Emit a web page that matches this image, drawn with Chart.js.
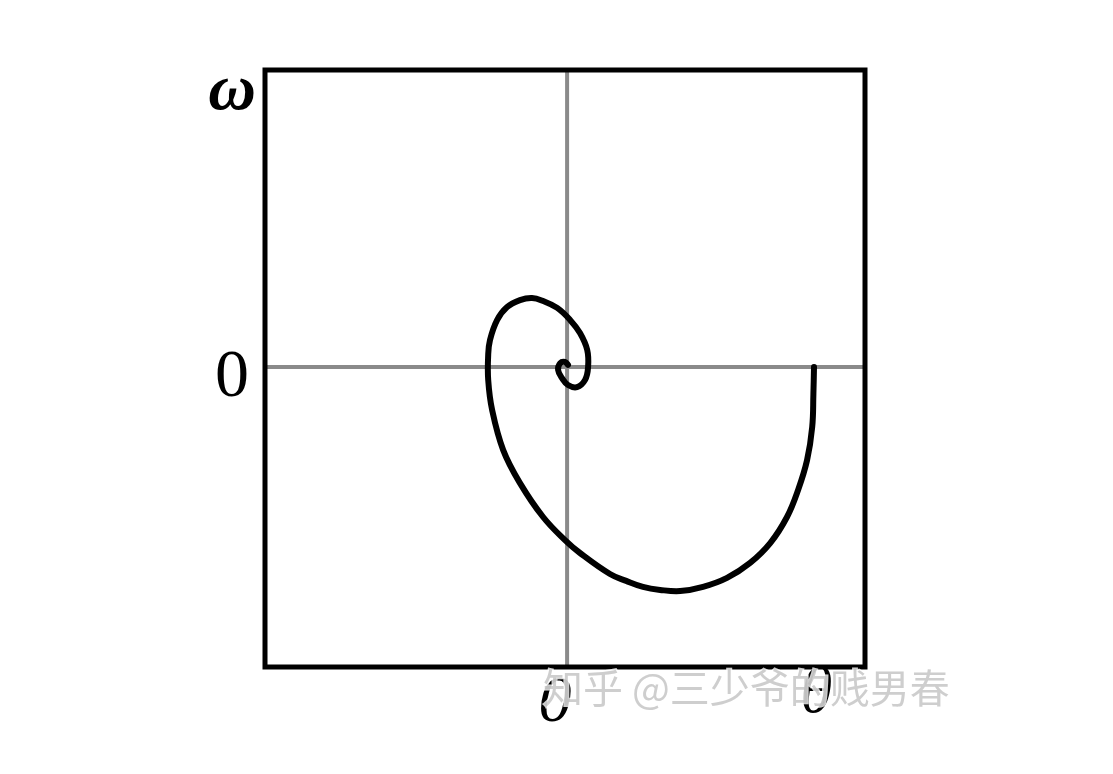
<!DOCTYPE html>
<html>
<head>
<meta charset="utf-8">
<script src="https://cdn.jsdelivr.net/npm/chart.js@4/dist/chart.umd.min.js"></script>
<style>
  html, body { margin: 0; padding: 0; background: #fff; }
  #wrap { width: 1113px; height: 774px; }
</style>
</head>
<body>
<div id="wrap"><canvas id="phase"></canvas></div>
<script>
// Phase trajectory (theta, omega)
const thetaValues = [0.823, 0.821, 0.817, 0.800, 0.770, 0.733, 0.677, 0.610, 0.533, 0.453,
  0.377, 0.310, 0.253, 0.197, 0.143, 0.043, -0.007, -0.080, -0.157, -0.213, -0.250,
  -0.263, -0.263, -0.257, -0.233, -0.200, -0.157, -0.117, -0.080, -0.033, 0.010,
  0.043, 0.067, 0.070, 0.060, 0.033, 0.003, -0.017, -0.030, -0.023, -0.007, 0.003];
const omegaValues = [0.000, -0.090, -0.200, -0.310, -0.410, -0.500, -0.587, -0.653, -0.703, -0.733,
  -0.747, -0.743, -0.733, -0.713, -0.690, -0.620, -0.577, -0.500, -0.387, -0.277, -0.143,
  -0.043, 0.040, 0.090, 0.157, 0.200, 0.223, 0.230, 0.220, 0.197, 0.157,
  0.113, 0.057, 0.000, -0.043, -0.067, -0.060, -0.037, -0.010, 0.013, 0.017, 0.007];

// Axis labels
const xTickValues = [0, 0.87];
const xTickLabels = ['0', 'θ'];
const yTickValues = [0, 0.89];
const yTickLabels = ['0', 'ω'];

const points = thetaValues.map((t, i) => ({ x: t, y: omegaValues[i] }));

// Draws the frame, the zero axes and the labels
const framePlugin = {
  id: 'frame',
  beforeDatasetsDraw(chart) {
    const { ctx, chartArea: a, scales } = chart;
    const x0 = scales.x.getPixelForValue(0);
    const y0 = scales.y.getPixelForValue(0);
    ctx.save();
    ctx.strokeStyle = '#8a8a8a';
    ctx.lineWidth = 4;
    ctx.beginPath();
    ctx.moveTo(x0, a.top); ctx.lineTo(x0, a.bottom);
    ctx.moveTo(a.left, y0); ctx.lineTo(a.right, y0);
    ctx.stroke();
    ctx.restore();
  },
  afterDatasetsDraw(chart) {
    const { ctx, chartArea: a, scales } = chart;
    ctx.save();
    ctx.strokeStyle = '#000';
    ctx.lineWidth = 5;
    ctx.strokeRect(a.left, a.top, a.right - a.left, a.bottom - a.top);

    ctx.fillStyle = '#000';
    ctx.textAlign = 'center';
    ctx.textBaseline = 'alphabetic';
    yTickValues.forEach((v, i) => {
      const italic = yTickLabels[i] !== '0';
      ctx.font = italic ? 'italic bold 66px "Liberation Serif", serif' : '68px "Liberation Serif", serif';
      ctx.fillText(yTickLabels[i], a.left - 33, scales.y.getPixelForValue(v) + (italic ? 9 : 29));
    });
    xTickValues.forEach((v, i) => {
      const italic = xTickLabels[i] !== '0';
      ctx.font = 'italic 66px "Liberation Serif", serif';
      ctx.fillText(xTickLabels[i], scales.x.getPixelForValue(v) - 12, a.bottom + (italic ? 45 : 54));
    });

    // watermark
    ctx.font = '40px "Noto Sans CJK SC", sans-serif';
    ctx.textAlign = 'left';
    ctx.lineWidth = 3;
    ctx.strokeStyle = 'rgba(255,255,255,0.8)';
    ctx.strokeText('知乎 @三少爷的贱男春', 543, 703);
    ctx.fillStyle = 'rgba(185,185,185,0.7)';
    ctx.fillText('知乎 @三少爷的贱男春', 543, 703);
    ctx.restore();
  }
};

new Chart(document.getElementById('phase'), {
  type: 'scatter',
  data: {
    datasets: [{
      data: points,
      showLine: true,
      borderColor: '#000',
      borderWidth: 6,
      borderCapStyle: 'round',
      borderJoinStyle: 'round',
      pointRadius: 0,
      tension: 0.4,
      fill: false
    }]
  },
  plugins: [framePlugin],
  options: {
    responsive: true,
    maintainAspectRatio: false,
    animation: false,
    layout: { padding: { left: 265, right: 248, top: 70, bottom: 107 } },
    scales: {
      x: { type: 'linear', min: -1.007, max: 0.993, display: false },
      y: { type: 'linear', min: -1.0, max: 0.99, display: false }
    },
    plugins: {
      legend: { display: false },
      tooltip: { enabled: false }
    }
  }
});
</script>
</body>
</html>
